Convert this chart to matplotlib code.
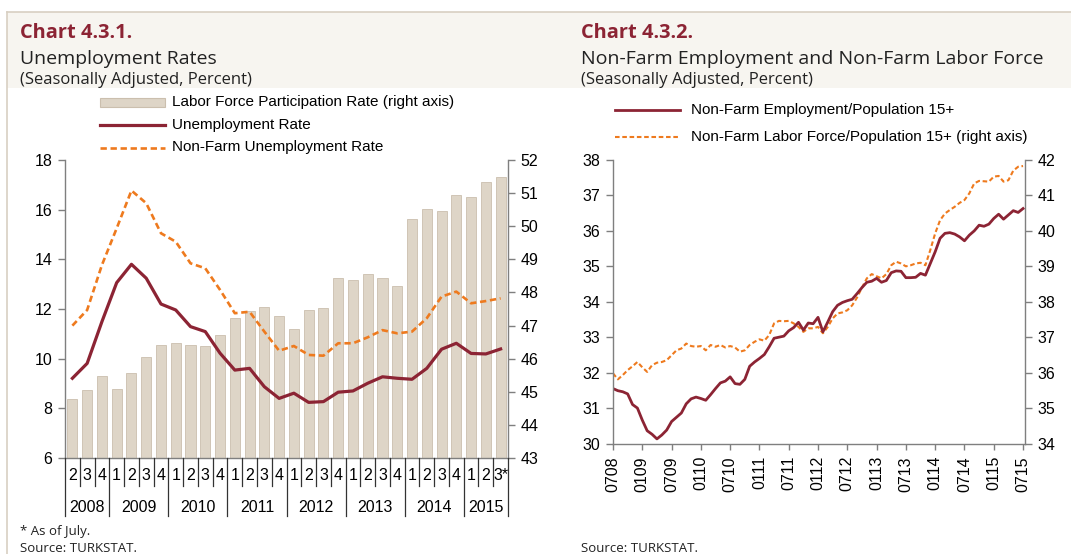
import matplotlib.pyplot as plt
import matplotlib.transforms as mtransforms
from matplotlib.lines import Line2D
from matplotlib.patches import Rectangle
import numpy as np

plt.rcParams['font.family'] = ['Liberation Sans', 'DejaVu Sans']

# Chart 4.3.1 - quarterly, 2008Q2 .. 2015Q3
quarters = ['2', '3', '4'] + ['1', '2', '3', '4'] * 6 + ['1', '2', '3*']
years = ['2008', '2009', '2010', '2011', '2012', '2013', '2014', '2015']
year_len = [3, 4, 4, 4, 4, 4, 4, 3]
lfpr = [44.79, 45.06, 45.48, 45.09, 45.57, 46.06, 46.42, 46.47, 46.42, 46.37,
        46.72, 47.23, 47.44, 47.55, 47.30, 46.90, 47.46, 47.52, 48.44, 48.37,
        48.55, 48.45, 48.20, 50.21, 50.51, 50.46, 50.95, 50.87, 51.35, 51.49]
unemp = [9.21, 9.81, 11.49, 13.06, 13.80, 13.24, 12.20, 11.96, 11.29, 11.09,
         10.22, 9.54, 9.61, 8.87, 8.40, 8.61, 8.24, 8.27, 8.65, 8.70,
         9.01, 9.27, 9.21, 9.17, 9.61, 10.38, 10.62, 10.21, 10.19, 10.39]
nonfarm_unemp = [11.33, 11.96, 13.77, 15.25, 16.77, 16.26, 15.05, 14.71, 13.84, 13.64,
                 12.77, 11.83, 11.89, 11.09, 10.32, 10.51, 10.15, 10.12, 10.62, 10.62,
                 10.86, 11.15, 11.02, 11.09, 11.63, 12.50, 12.70, 12.23, 12.32, 12.43]

# Chart 4.3.2 - monthly, 07/2008 .. 07/2015
month_labels = ['0708', '0109', '0709', '0110', '0710', '0111', '0711', '0112',
                '0712', '0113', '0713', '0114', '0714', '0115', '0715']
nf_emp = [31.55, 31.49, 31.46, 31.40, 31.10, 31.00, 30.66, 30.36, 30.26, 30.13,
          30.24, 30.38, 30.62, 30.74, 30.86, 31.12, 31.26, 31.31, 31.27, 31.22,
          31.38, 31.55, 31.71, 31.76, 31.88, 31.69, 31.67, 31.81, 32.18, 32.30,
          32.40, 32.51, 32.73, 32.97, 33.00, 33.03, 33.18, 33.27, 33.42, 33.20,
          33.40, 33.38, 33.56, 33.15, 33.43, 33.72, 33.90, 33.98, 34.03, 34.07,
          34.23, 34.40, 34.55, 34.58, 34.66, 34.55, 34.60, 34.82, 34.87, 34.86,
          34.68, 34.68, 34.69, 34.80, 34.75, 35.08, 35.41, 35.79, 35.93, 35.95,
          35.91, 35.83, 35.72, 35.88, 36.00, 36.16, 36.13, 36.19, 36.35, 36.47,
          36.33, 36.45, 36.57, 36.52, 36.63]
nf_lf = [35.98, 35.81, 35.93, 36.07, 36.18, 36.30, 36.15, 36.02, 36.21, 36.28,
         36.30, 36.35, 36.49, 36.63, 36.68, 36.82, 36.75, 36.73, 36.75, 36.63,
         36.78, 36.73, 36.78, 36.71, 36.75, 36.71, 36.59, 36.63, 36.78, 36.87,
         36.94, 36.90, 37.06, 37.39, 37.46, 37.45, 37.46, 37.39, 37.29, 37.15,
         37.25, 37.25, 37.29, 37.11, 37.29, 37.53, 37.67, 37.70, 37.76, 37.90,
         38.12, 38.40, 38.66, 38.78, 38.72, 38.66, 38.78, 39.03, 39.13, 39.08,
         39.00, 39.03, 39.08, 39.10, 39.03, 39.46, 39.93, 40.30, 40.49, 40.59,
         40.68, 40.79, 40.87, 41.06, 41.34, 41.41, 41.40, 41.39, 41.53, 41.55,
         41.39, 41.43, 41.70, 41.81, 41.83]

RED = '#8C2434'
ORANGE = '#EE7A1E'
BAR = '#DED5C7'
BAR_EDGE = '#CBBFAE'
BAND = '#F7F5F0'
BORDER = '#D8CFC2'
SPINE = '#7F7F7F'
TITLE_FONT = ['Open Sans', 'DejaVu Sans']
FS = 11.5  # tick / legend text size

W, H = 1071, 554
fig = plt.figure(figsize=(W / 100, H / 100), dpi=100)


def fx(x):
    return x / W


def fy(y):
    return 1 - y / H


# header band and frame lines
fig.patches.append(Rectangle((fx(7), fy(88)), 1 - fx(7), 76 / H, transform=fig.transFigure,
                             facecolor=BAND, edgecolor='none', zorder=0))
fig.add_artist(Line2D([fx(6.5), 1], [fy(11.5), fy(11.5)], color=BORDER, lw=1.2))
fig.add_artist(Line2D([fx(6.5), fx(6.5)], [fy(11.5), 0], color=BORDER, lw=1.2))

# titles
for x0, num, title in [(20, 'Chart 4.3.1.', 'Unemployment Rates'),
                       (581, 'Chart 4.3.2.', 'Non-Farm Employment and Non-Farm Labor Force')]:
    fig.text(fx(x0), fy(38), num, color=RED, fontsize=14.4, fontweight='bold',
             family=TITLE_FONT, va='baseline')
    fig.text(fx(x0), fy(64), title, color='#222222', fontsize=14, family=TITLE_FONT, va='baseline')
    fig.text(fx(x0), fy(84), '(Seasonally Adjusted, Percent)', color='#222222', fontsize=12,
             family=TITLE_FONT, va='baseline')

fig.text(fx(20), fy(531), '* As of July.', fontsize=9.5, family=TITLE_FONT, va='center', color='#222222')
fig.text(fx(20), fy(552), 'Source: TURKSTAT.', fontsize=9.5, family=TITLE_FONT, va='baseline', color='#222222')
fig.text(fx(581), fy(552), 'Source: TURKSTAT.', fontsize=9.5, family=TITLE_FONT, va='baseline', color='#222222')


def style_axes(ax, sides):
    for s in ['top', 'left', 'right', 'bottom']:
        ax.spines[s].set_visible(s in sides)
        ax.spines[s].set_color(SPINE)
        ax.spines[s].set_linewidth(1)
    ax.tick_params(axis='both', colors=SPINE, labelcolor='black', labelsize=FS,
                   length=5, width=1, direction='out', pad=4)


# ---------- Chart 4.3.1 ----------
ax1 = fig.add_axes([fx(65), fy(458), (508 - 65) / W, (458 - 160) / H])
ax1b = ax1.twinx()
x = np.arange(len(quarters))
ax1b.bar(x, np.array(lfpr) - 43, bottom=43, width=0.68, color=BAR, edgecolor=BAR_EDGE, linewidth=0.6)
ax1.plot(x, unemp, color=RED, lw=2.3, solid_joinstyle='round')
ax1.plot(x, nonfarm_unemp, color=ORANGE, lw=1.9, linestyle=(0, (2.4, 1.4)))
ax1.set_zorder(ax1b.get_zorder() + 1)
ax1.patch.set_visible(False)
ax1.set_xlim(-0.5, len(quarters) - 0.5)
ax1.set_ylim(6, 18)
ax1.set_yticks(range(6, 19, 2))
ax1b.set_ylim(43, 52)
ax1b.set_yticks(range(43, 53))
ax1.set_xticks([])
style_axes(ax1, ['left', 'bottom'])
style_axes(ax1b, ['right'])

blend = mtransforms.blended_transform_factory(ax1.transData, fig.transFigure)
for i, q in enumerate(quarters):
    fig.text(i, fy(476), q, transform=blend, ha='center', va='center', fontsize=FS)
year_edges = np.cumsum([0] + year_len)
for k in range(len(quarters) + 1):
    bottom = 516 if k in year_edges else 486
    fig.add_artist(Line2D([k - 0.5, k - 0.5], [fy(458), fy(bottom)], transform=blend,
                          color='#333333', lw=0.9))
for j, yr in enumerate(years):
    mid = (year_edges[j] + year_edges[j + 1]) / 2 - 0.5
    fig.text(mid, fy(507), yr, transform=blend, ha='center', va='center', fontsize=FS)

# legend 4.3.1
fig.add_artist(Rectangle((fx(100), fy(106.5)), 65 / W, 9 / H, transform=fig.transFigure,
                         facecolor=BAR, edgecolor=BAR_EDGE, lw=0.8))
fig.add_artist(Line2D([fx(100), fx(165)], [fy(125)] * 2, color=RED, lw=2.3))
fig.add_artist(Line2D([fx(100), fx(165)], [fy(147.5)] * 2, color=ORANGE, lw=1.9, linestyle=(0, (2.4, 1.4))))
for yy, txt in [(102, 'Labor Force Participation Rate (right axis)'), (125, 'Unemployment Rate'),
                (147.5, 'Non-Farm Unemployment Rate')]:
    fig.text(fx(172), fy(yy), txt, va='center', fontsize=11)

# ---------- Chart 4.3.2 ----------
ax2 = fig.add_axes([fx(613), fy(443.5), (1025 - 613) / W, (443.5 - 160) / H])
ax2b = ax2.twinx()
m = np.arange(len(nf_emp))
ax2b.plot(m, nf_lf, color=ORANGE, lw=1.5, linestyle=(0, (2.2, 1.3)))
ax2.plot(m, nf_emp, color=RED, lw=2.0, solid_joinstyle='round')
ax2.set_zorder(ax2b.get_zorder() + 1)
ax2.patch.set_visible(False)
ax2.set_xlim(0, 84.4)
ax2.set_ylim(30, 38)
ax2.set_yticks(range(30, 39))
ax2b.set_ylim(34, 42)
ax2b.set_yticks(range(34, 43))
style_axes(ax2, ['left', 'bottom'])
style_axes(ax2b, ['right'])
ax2.set_xticks(range(0, 85, 6))
ax2.set_xticklabels(month_labels, rotation=90)
ax2.tick_params(axis='x', length=4, pad=5)

fig.add_artist(Line2D([fx(615), fx(680)], [fy(110)] * 2, color=RED, lw=2.0))
fig.add_artist(Line2D([fx(615), fx(680)], [fy(137)] * 2, color=ORANGE, lw=1.5, linestyle=(0, (2.2, 1.3))))
fig.text(fx(691), fy(110), 'Non-Farm Employment/Population 15+', va='center', fontsize=11)
fig.text(fx(691), fy(137), 'Non-Farm Labor Force/Population 15+ (right axis)', va='center', fontsize=11)

fig.savefig('out.png', dpi=100, facecolor='white')
